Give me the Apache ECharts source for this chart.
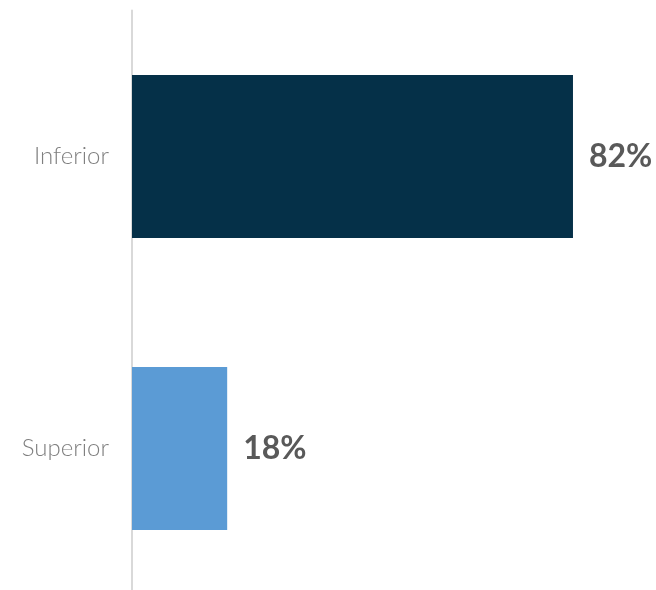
<!DOCTYPE html>
<html>
<head>
<meta charset="utf-8">
<script src="https://cdn.jsdelivr.net/npm/echarts@6/dist/echarts.min.js"></script>
<style>html,body{margin:0;padding:0;background:#fff;}#c{width:656px;height:590px;}</style>
</head>
<body>
<div id="c"></div>
<script>
const categories = ['Inferior', 'Superior'];
const values = [82, 17.7];
const labels = ['82%', '18%'];
const colors = ['#053048', '#5b9bd5'];

const chart = echarts.init(document.getElementById('c'));
chart.setOption({
  animation: false,
  grid: { left: 132, width: 484, top: 10.5, height: 584, containLabel: false, outerBoundsMode: 'none' },
  xAxis: { type: 'value', min: 0, max: 90, show: false },
  yAxis: {
    type: 'category',
    data: categories,
    inverse: true,
    axisLine: { show: true, lineStyle: { color: '#d9d9d9', width: 2 } },
    axisTick: { show: false },
    axisLabel: { color: '#7f7f7f', fontFamily: 'Lato', fontSize: 24, fontWeight: 300, margin: 23 }
  },
  series: [{
    type: 'bar',
    barWidth: 163,
    data: values.map((v, i) => ({ value: v, itemStyle: { color: colors[i] } })),
    label: {
      show: true,
      position: 'right',
      distance: 16,
      formatter: p => labels[p.dataIndex],
      color: '#595959',
      fontFamily: 'Lato',
      fontWeight: 'bold',
      fontSize: 32
    }
  }]
});
</script>
</body>
</html>
